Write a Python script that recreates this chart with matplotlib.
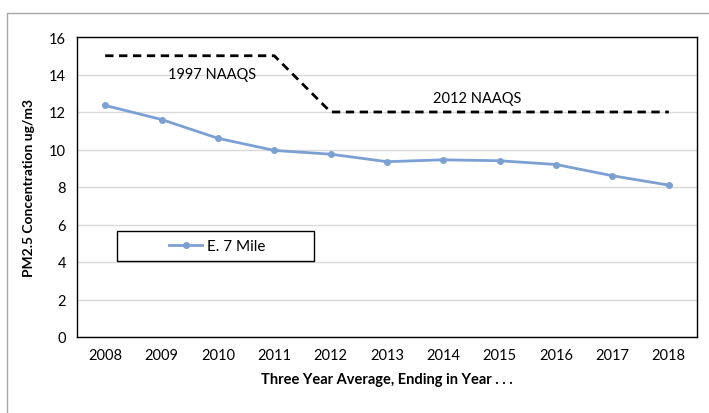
import matplotlib
matplotlib.use('Agg')
import matplotlib.pyplot as plt
from matplotlib.patches import Rectangle

plt.rcParams['font.family'] = ['Lato', 'DejaVu Sans']

# data
years = [2008, 2009, 2010, 2011, 2012, 2013, 2014, 2015, 2016, 2017, 2018]
e7_mile = [12.35, 11.6, 10.6, 9.95, 9.75, 9.35, 9.45, 9.4, 9.2, 8.6, 8.1]
naaqs = [15, 15, 15, 15, 12, 12, 12, 12, 12, 12, 12]
yticks = [0, 2, 4, 6, 8, 10, 12, 14, 16]

fig = plt.figure(figsize=(7.09, 4.14), dpi=100)

# outer chart border (cut off on right/bottom)
fig.patches.append(Rectangle((7 / 709, -0.1), 1.2, 1 - 14 / 414 + 0.1,
                             transform=fig.transFigure, fill=False,
                             edgecolor='#a6a6a6', linewidth=1.0))

ax = fig.add_axes([77 / 709, 76 / 414, 620 / 709, 300 / 414])

x = list(range(len(years)))
ax.plot(x, naaqs, color='black', linestyle=(0, (3, 2)), linewidth=2.0)
ax.plot(x, e7_mile, color='#7da0d3', linewidth=2.0, marker='o',
        markersize=4, label='E. 7 Mile')

ax.text(1.9, 14.05, '1997 NAAQS', ha='center', va='center', fontsize=10.5)
ax.text(6.6, 12.75, '2012 NAAQS', ha='center', va='center', fontsize=10.5)

ax.set_xlim(-0.5, len(years) - 0.5)
ax.set_ylim(0, 16)
ax.set_xticks(x)
ax.set_xticklabels([str(y) for y in years])
ax.set_yticks(yticks)
ax.tick_params(axis='both', length=0, labelsize=10.5, pad=8)
ax.grid(axis='y', color='#d9d9d9', linewidth=1.0)
ax.set_axisbelow(True)
for s in ax.spines.values():
    s.set_color('black')
    s.set_linewidth(1.0)

ax.set_xlabel('Three Year Average, Ending in Year . . .', fontsize=10.5,
              fontweight='bold', labelpad=7)
ax.set_ylabel('PM2.5 Concentration ug/m3', fontsize=10,
              fontweight='bold', labelpad=10)

# legend box drawn wider than its content, as in the original
ax.add_patch(Rectangle((40 / 620, 76 / 300), 197 / 620, 30 / 300,
                       transform=ax.transAxes, fill=True, facecolor='white',
                       edgecolor='black', linewidth=1.0, zorder=4))
leg = ax.legend(loc='center', bbox_to_anchor=(140 / 620, 91 / 300),
                fontsize=11, frameon=False, handlelength=2.2,
                handletextpad=0.3)
leg.set_zorder(5)

fig.savefig('out.png', dpi=100)
